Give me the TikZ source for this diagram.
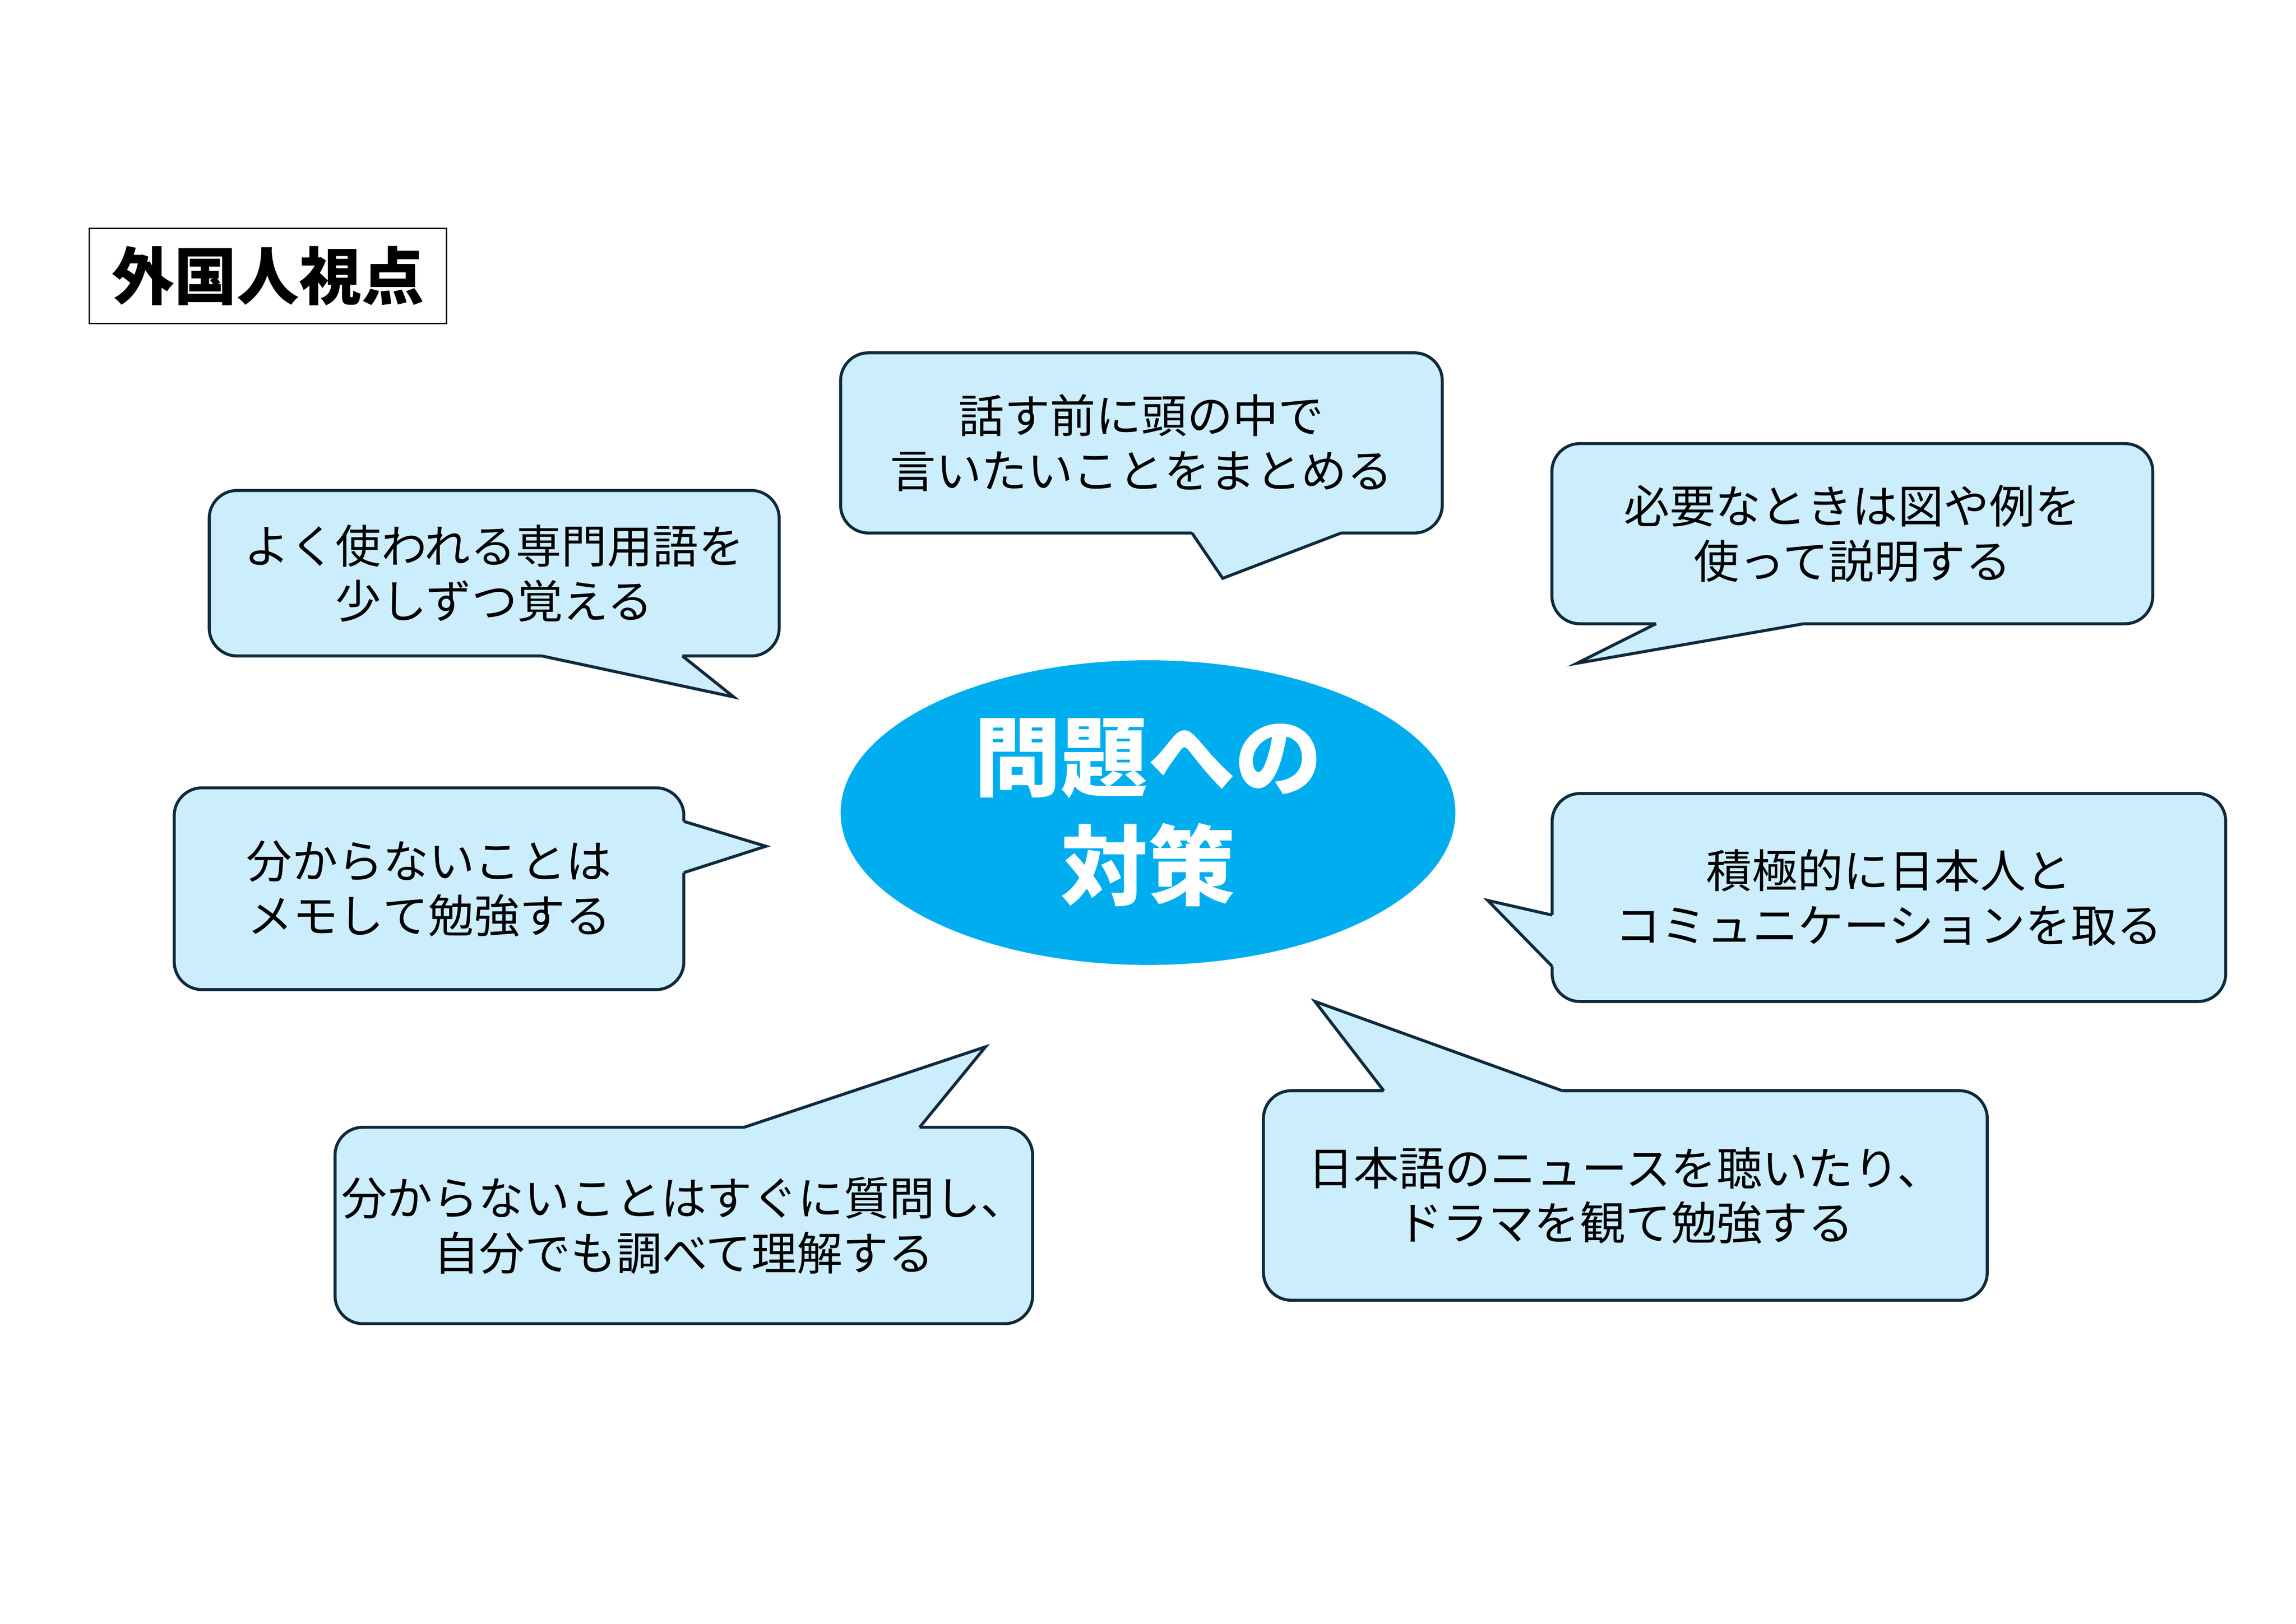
\documentclass[tikz,border=0pt]{standalone}
\usepackage{fontspec}
\usetikzlibrary{shapes.geometric}
\newfontfamily\jp{Noto Sans CJK JP}
\definecolor{bubblefill}{RGB}{204,238,252}
\definecolor{bubbleline}{RGB}{16,42,60}
\definecolor{centerblue}{RGB}{0,174,239}
\begin{document}
\begin{tikzpicture}[x=0.018941cm,y=-0.018941cm,
    bubble/.style={fill=bubblefill,draw=bubbleline,line width=1.1pt,rounded corners=0.36cm,
        align=center,inner sep=0pt,font=\jp\fontsize{16.8}{20.2}\selectfont},
    tailfill/.style={fill=bubblefill},
    tailline/.style={draw=bubbleline,line width=1.1pt},
    titlebox/.style={draw=black,line width=0.6pt,inner sep=0pt,
        minimum width=4.62cm,minimum height=1.23cm,font=\jp\bfseries\fontsize{23}{28}\selectfont},
    core/.style={ellipse,fill=centerblue,text=white,align=center,inner sep=0pt,
        minimum width=7.95cm,minimum height=3.94cm,font=\jp\bfseries\fontsize{32}{40}\selectfont}]
    \useasboundingbox (0,0) rectangle (1568,1109);
    \node[titlebox] (viewpoint) at (183,188.5) {外国人視点};
    \node[core] (taisaku) at (784,555) {問題への\\対策};

    \node[bubble,minimum width=7.37cm,minimum height=2.14cm] (terms) at (337.5,391.5) {よく使われる専門用語を\\少しずつ覚える};
    \fill[tailfill] (370,445) -- (370,448) -- (501,476) -- (466,448) -- (466,445) -- cycle;
    \draw[tailline] (370,448) -- (501,476) -- (466,448);

    \node[bubble,minimum width=7.78cm,minimum height=2.33cm] (prep) at (779.5,302.5) {話す前に頭の中で\\言いたいことをまとめる};
    \fill[tailfill] (814,361) -- (814,364) -- (835,395) -- (916,364) -- (916,361) -- cycle;
    \draw[tailline] (814,364) -- (835,395) -- (916,364);

    \node[bubble,minimum width=7.77cm,minimum height=2.33cm] (visual) at (1265,364.5) {必要なときは図や例を\\使って説明する};
    \fill[tailfill] (1232,423) -- (1232,426) -- (1077,453) -- (1131,426) -- (1131,423) -- cycle;
    \draw[tailline] (1232,426) -- (1077,453) -- (1131,426);

    \node[bubble,minimum width=6.59cm,minimum height=2.61cm] (memo) at (293,607) {分からないことは\\メモして勉強する};
    \fill[tailfill] (464,561) -- (467,561) -- (523,578) -- (467,596) -- (464,596) -- cycle;
    \draw[tailline] (467,561) -- (523,578) -- (467,596);

    \node[bubble,minimum width=8.71cm,minimum height=2.69cm] (talk) at (1290,613) {積極的に日本人と\\コミュニケーションを取る};
    \fill[tailfill] (1063,625) -- (1060,625) -- (1016,615) -- (1060,660) -- (1063,660) -- cycle;
    \draw[tailline] (1060,625) -- (1016,615) -- (1060,660);

    \node[bubble,minimum width=9.36cm,minimum height=2.71cm] (media) at (1110,816.5) {日本語のニュースを聴いたり、\\ドラマを観て勉強する};
    \fill[tailfill] (945,748) -- (945,745) -- (898,684) -- (1067,745) -- (1067,748) -- cycle;
    \draw[tailline] (945,745) -- (898,684) -- (1067,745);

    \node[bubble,minimum width=9.02cm,minimum height=2.54cm] (ask) at (467,837) {分からないことはすぐに質問し、\\自分でも調べて理解する};
    \fill[tailfill] (508,773) -- (508,770) -- (673,715) -- (628,770) -- (628,773) -- cycle;
    \draw[tailline] (508,770) -- (673,715) -- (628,770);
\end{tikzpicture}
\end{document}
